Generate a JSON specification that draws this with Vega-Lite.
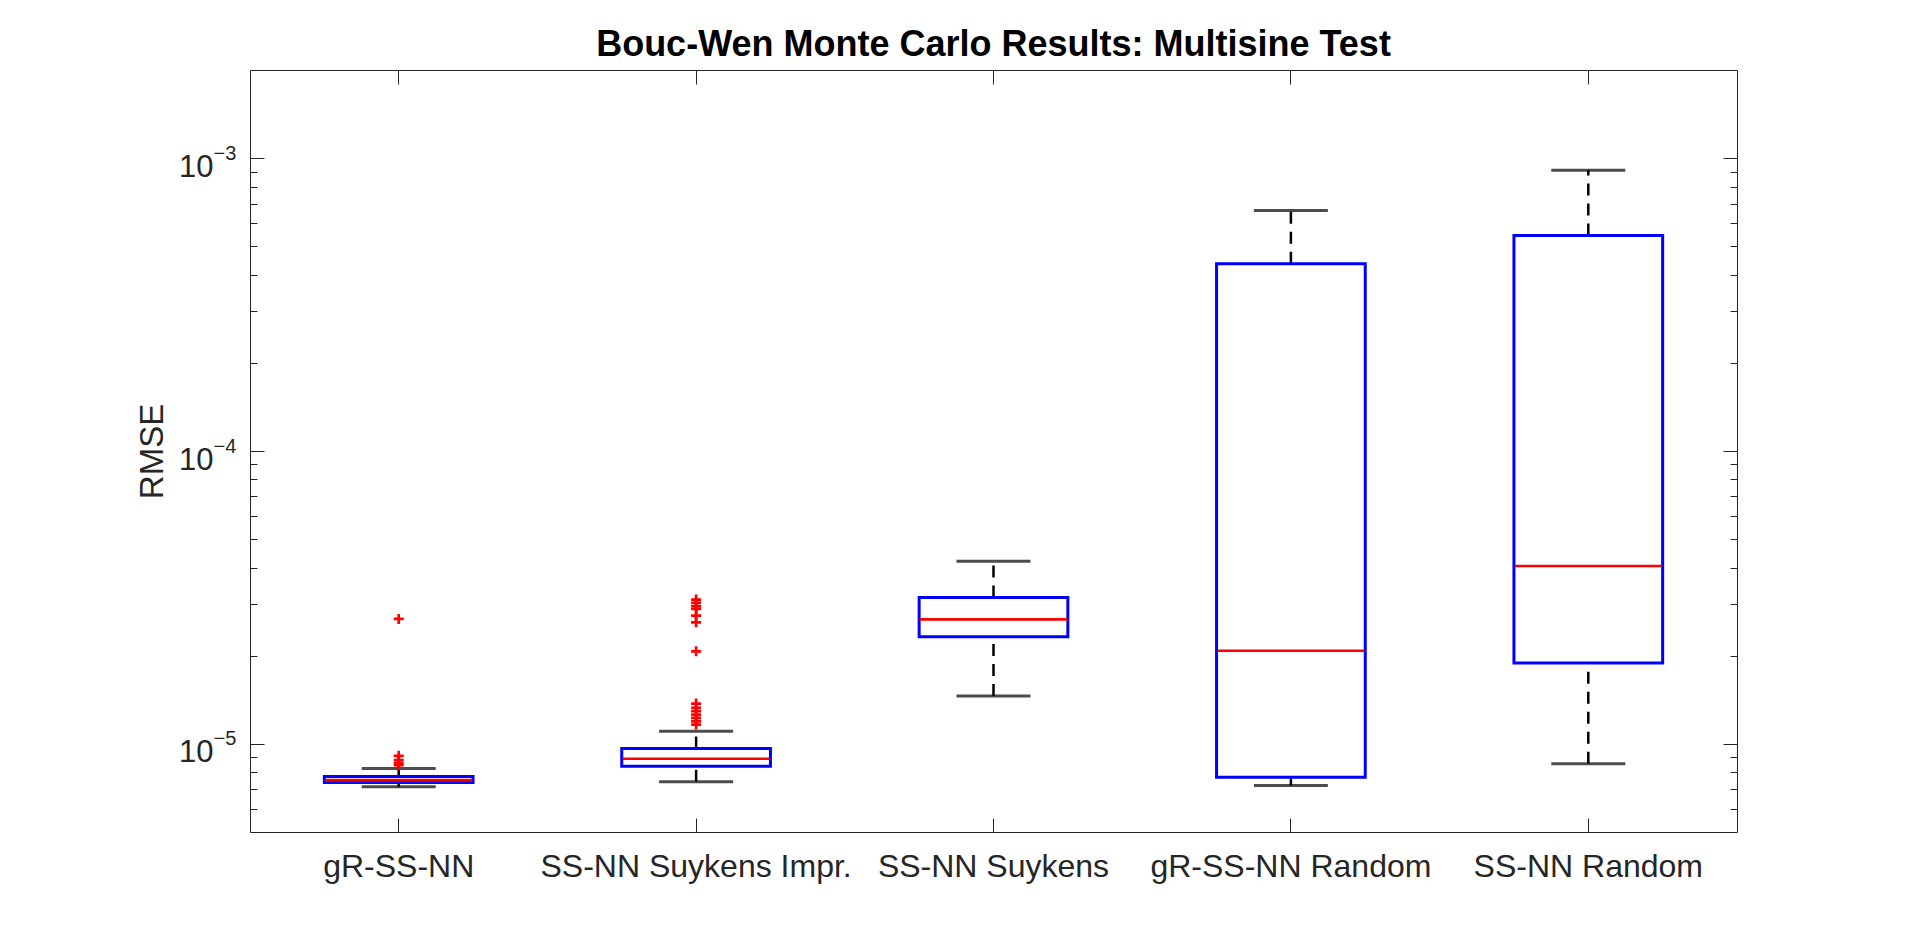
{
  "$schema": "https://vega.github.io/schema/vega-lite/v6.json",
  "autosize": {"type": "none"},
  "width": 1487,
  "height": 762,
  "padding": {"left": 250, "top": 70, "right": 183, "bottom": 104},
  "background": "white",
  "config": {
    "view": {"stroke": "#262626", "strokeWidth": 1},
    "font": "Liberation Sans",
    "axis": {"grid": false, "domain": false, "tickColor": "#262626", "tickWidth": 1, "labelColor": "#262626", "labelFont": "Liberation Sans", "labelOverlap": false, "labelFlush": false, "labelBound": false, "labelLimit": 0, "titleColor": "#262626", "titleFont": "Liberation Sans", "titleFontWeight": "normal"}
  },
  "title": {"text": "Bouc-Wen Monte Carlo Results: Multisine Test", "fontSize": 36, "fontWeight": "bold", "color": "black", "font": "Liberation Sans", "anchor": "middle", "frame": "group", "baseline": "alphabetic", "offset": -22},
  "datasets": {
    "stats": [
      {"model": "gR-SS-NN", "lower": 7.13e-6, "q1": 7.38e-6, "median": 7.52e-6, "q3": 7.74e-6, "upper": 8.24e-6},
      {"model": "SS-NN Suykens Impr.", "lower": 7.42e-6, "q1": 8.39e-6, "median": 8.89e-6, "q3": 9.64e-6, "upper": 1.104e-5},
      {"model": "SS-NN Suykens", "lower": 1.458e-5, "q1": 2.32e-5, "median": 2.66e-5, "q3": 3.16e-5, "upper": 4.2e-5},
      {"model": "gR-SS-NN Random", "lower": 7.21e-6, "q1": 7.69e-6, "median": 2.08e-5, "q3": 4.36e-4, "upper": 6.63e-4},
      {"model": "SS-NN Random", "lower": 8.55e-6, "q1": 1.89e-5, "median": 4.05e-5, "q3": 5.44e-4, "upper": 9.09e-4}
    ],
    "outliers": [
      {"model": "gR-SS-NN", "rmse": 2.67e-5},
      {"model": "gR-SS-NN", "rmse": 9.1e-6},
      {"model": "gR-SS-NN", "rmse": 8.8e-6},
      {"model": "gR-SS-NN", "rmse": 8.6e-6},
      {"model": "gR-SS-NN", "rmse": 8.45e-6},
      {"model": "SS-NN Suykens Impr.", "rmse": 3.11e-5},
      {"model": "SS-NN Suykens Impr.", "rmse": 3.03e-5},
      {"model": "SS-NN Suykens Impr.", "rmse": 2.95e-5},
      {"model": "SS-NN Suykens Impr.", "rmse": 2.89e-5},
      {"model": "SS-NN Suykens Impr.", "rmse": 2.74e-5},
      {"model": "SS-NN Suykens Impr.", "rmse": 2.6e-5},
      {"model": "SS-NN Suykens Impr.", "rmse": 2.07e-5},
      {"model": "SS-NN Suykens Impr.", "rmse": 1.373e-5},
      {"model": "SS-NN Suykens Impr.", "rmse": 1.327e-5},
      {"model": "SS-NN Suykens Impr.", "rmse": 1.292e-5},
      {"model": "SS-NN Suykens Impr.", "rmse": 1.259e-5},
      {"model": "SS-NN Suykens Impr.", "rmse": 1.227e-5},
      {"model": "SS-NN Suykens Impr.", "rmse": 1.194e-5},
      {"model": "SS-NN Suykens Impr.", "rmse": 1.164e-5}
    ]
  },
  "resolve": {"axis": {"x": "independent", "y": "independent"}},
  "layer": [
    {
      "data": {"name": "stats"},
      "mark": {"type": "rule", "color": "black", "strokeWidth": 2.5, "strokeDash": [12, 8]},
      "encoding": {
        "x": {"field": "model", "type": "nominal", "sort": null,
          "scale": {"domain": ["gR-SS-NN", "SS-NN Suykens Impr.", "SS-NN Suykens", "gR-SS-NN Random", "SS-NN Random"], "paddingInner": 0, "paddingOuter": 0},
          "axis": {"orient": "bottom", "title": null, "ticks": false, "tickSize": 0, "labelAngle": 0, "labelFontSize": 32, "labelAlign": "center", "labelBaseline": "alphabetic", "labelPadding": 44.5, "bandPosition": 0.5}},
        "y": {"field": "q3", "type": "quantitative",
          "scale": {"type": "log", "domain": [5e-6, 2e-3], "nice": false},
          "axis": {"orient": "left", "values": [1e-5, 1e-4, 1e-3], "ticks": false, "tickSize": 0, "labelExpr": "'10'", "labelFontSize": 31, "labelAlign": "right", "labelBaseline": "alphabetic", "labelOffset": 18, "labelPadding": 37, "title": "RMSE", "titleFontSize": 33, "titleAngle": 270, "titleBaseline": "bottom", "titleX": -81, "titleY": 381}},
        "y2": {"field": "upper"}
      }
    },
    {
      "data": {"name": "stats"},
      "mark": {"type": "rule", "color": "black", "strokeWidth": 2.5, "strokeDash": [12, 8]},
      "encoding": {
        "x": {"field": "model", "type": "nominal", "sort": null,
          "axis": {"orient": "bottom", "title": null, "labels": false, "ticks": true, "tickSize": -14, "bandPosition": 0.5}},
        "y": {"field": "lower", "type": "quantitative",
          "axis": {"orient": "left", "values": [1e-5, 1e-4, 1e-3], "ticks": false, "tickSize": 0, "labelExpr": "datum.value > 0.0005 ? '\u22123' : datum.value > 0.00005 ? '\u22124' : '\u22125'", "labelFontSize": 20, "labelAlign": "left", "labelBaseline": "alphabetic", "labelOffset": 1, "labelPadding": 37, "title": null}},
        "y2": {"field": "q1"}
      }
    },
    {
      "data": {"name": "stats"},
      "mark": {"type": "tick", "color": "black", "size": 74, "thickness": 3},
      "encoding": {
        "x": {"field": "model", "type": "nominal", "sort": null,
          "axis": {"orient": "top", "title": null, "labels": false, "ticks": true, "tickSize": -14, "bandPosition": 0.5}},
        "y": {"field": "upper", "type": "quantitative",
          "axis": {"orient": "left", "values": [1e-5, 1e-4, 1e-3], "labels": false, "ticks": true, "tickSize": -14, "title": null}}
      }
    },
    {
      "data": {"name": "stats"},
      "mark": {"type": "tick", "color": "black", "size": 74, "thickness": 3},
      "encoding": {
        "x": {"field": "model", "type": "nominal", "sort": null, "axis": null},
        "y": {"field": "lower", "type": "quantitative",
          "axis": {"orient": "left", "values": [6e-6, 7e-6, 8e-6, 9e-6, 2e-5, 3e-5, 4e-5, 5e-5, 6e-5, 7e-5, 8e-5, 9e-5, 2e-4, 3e-4, 4e-4, 5e-4, 6e-4, 7e-4, 8e-4, 9e-4], "labels": false, "ticks": true, "tickSize": -7, "title": null}}
      }
    },
    {
      "data": {"name": "stats"},
      "mark": {"type": "bar", "width": {"band": 0.5}, "fill": "transparent", "stroke": "#0000ff", "strokeWidth": 3},
      "encoding": {
        "x": {"field": "model", "type": "nominal", "sort": null, "axis": null},
        "y": {"field": "q1", "type": "quantitative",
          "axis": {"orient": "right", "values": [1e-5, 1e-4, 1e-3], "labels": false, "ticks": true, "tickSize": -14, "title": null}},
        "y2": {"field": "q3"}
      }
    },
    {
      "data": {"name": "stats"},
      "mark": {"type": "tick", "color": "#ff0000", "size": 147, "thickness": 2.6, "opacity": 1},
      "encoding": {
        "x": {"field": "model", "type": "nominal", "sort": null, "axis": null},
        "y": {"field": "median", "type": "quantitative",
          "axis": {"orient": "right", "values": [6e-6, 7e-6, 8e-6, 9e-6, 2e-5, 3e-5, 4e-5, 5e-5, 6e-5, 7e-5, 8e-5, 9e-5, 2e-4, 3e-4, 4e-4, 5e-4, 6e-4, 7e-4, 8e-4, 9e-4], "labels": false, "ticks": true, "tickSize": -7, "title": null}}
      }
    },
    {
      "data": {"name": "outliers"},
      "mark": {"type": "point", "shape": "M-1,0L1,0M0,-1L0,1", "size": 100, "filled": false, "stroke": "#ff0000", "strokeWidth": 2.7, "opacity": 1},
      "encoding": {
        "x": {"field": "model", "type": "nominal", "sort": null, "axis": null},
        "y": {"field": "rmse", "type": "quantitative", "axis": null}
      }
    }
  ]
}
